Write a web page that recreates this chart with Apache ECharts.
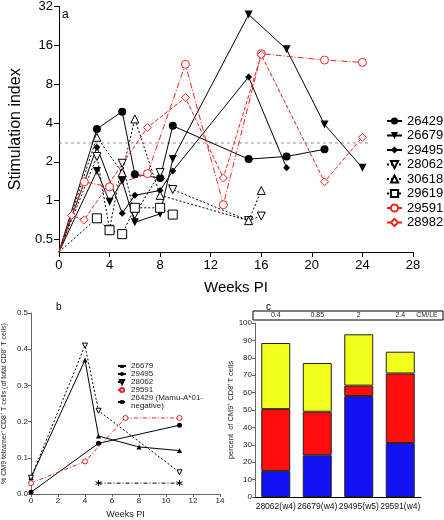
<!DOCTYPE html>
<html><head><meta charset="utf-8">
<script src="https://cdn.jsdelivr.net/npm/echarts@6/dist/echarts.min.js"></script>
<style>html,body{margin:0;padding:0;background:#fff}#c{width:444px;height:520px}</style>
</head><body><div id="c"></div>
<script>
// ---------- Panel a : stimulation index (log2 scale) ----------
const aTicksY = [0.5, 1, 2, 4, 8, 16, 32];
const a26429W = [0, 3, 5, 6, 8, 9, 15, 18, 21];
const a26429V = [0.4, 3.6, 4.9, 1.6, 1.5, 3.8, 2.1, 2.2, 2.5];
const a26679W = [0, 3, 4, 5, 6, 8, 9, 15, 18, 21, 24];
const a26679V = [0.4, 1.7, 0.98, 1.42, 0.68, 0.79, 2.1, 27.7, 14.9, 3.9, 1.8];
const a29495W = [0, 3, 5, 6, 8, 9, 15, 18];
const a29495V = [0.4, 2.6, 0.8, 1.1, 1.2, 1.7, 9.1, 1.8];
const a28062W = [0, 3, 4, 5, 6, 8, 9, 15, 16];
const a28062V = [0.4, 2.2, 0.6, 1.95, 0.78, 1.65, 1.22, 0.7, 0.76];
const a30618W = [0, 3, 5, 6, 8, 15, 16];
const a30618V = [0.4, 3.1, 1.65, 4.3, 1.1, 0.7, 1.2];
const a29619W = [0, 3, 4, 5, 6, 8, 9];
const a29619V = [0.4, 0.73, 0.59, 0.55, 0.88, 0.88, 0.78];
const a29591W = [0, 2, 4, 7, 10, 13, 16, 21, 24];
const a29591V = [0.4, 1.4, 1.28, 1.62, 11.4, 0.93, 13.8, 12.3, 11.8];
const a28982W = [0, 1, 2, 7, 10, 13, 16, 21, 24];
const a28982V = [0.4, 0.77, 0.71, 3.7, 6.3, 1.5, 13.5, 1.4, 3.1];
const aThresholdW = [0, 24.5];
const aThresholdV = 2.8;
const aLegend = ['26429', '26679', '29495', '28062', '30618', '29619', '29591', '28982'];

// ---------- Panel b : CM9 tetramer+ ----------
const b26679W = [0, 4, 5, 8, 11];
const b26679V = [0.045, 0.37, 0.16, 0.13, 0.12];
const b29495W = [0, 5, 11];
const b29495V = [0.005, 0.14, 0.19];
const b28062W = [0, 4, 5, 11];
const b28062V = [0.045, 0.41, 0.23, 0.06];
const b29591W = [0, 4, 7, 11];
const b29591V = [0.03, 0.09, 0.21, 0.21];
const b26429W = [5, 11];
const b26429V = [0.03, 0.03];

// ---------- Panel c : stacked percentages ----------
const cCats = ['28062(w4)', '26679(w4)', '29495(w5)', '29591(w4)'];
const cBlue = [15, 24, 58, 31];
const cRed = [35.5, 25, 6, 40];
const cYellow = [38, 28, 29.5, 12.5];
const cRatios = ['0.4', '0.85', '2', '2.4'];
const cRatioLabel = 'CM/LE';

const FONT = 'Liberation Sans, Arial, Helvetica, sans-serif';
const BLACK = '#000';
const RED = '#e8231e';

function lineSeries(name, w, v, o) {
  const data = w.map((x, i) => (o.hideFirst && i === 0) ? { value: [x, v[i]], symbol: 'none' } : [x, v[i]]);
  return {
    type: 'line', name: name, xAxisIndex: o.g, yAxisIndex: o.g,
    data: data, symbol: o.symbol, symbolSize: o.size,
    symbolRotate: o.rotate || 0, showAllSymbol: true, animation: false,
    itemStyle: o.filled ? { color: o.color, borderColor: o.color, borderWidth: 0 }
                        : { color: '#fff', borderColor: o.color, borderWidth: 1 },
    lineStyle: { color: o.color, width: o.lw || 1, type: o.type || 'solid' },
    emphasis: { disabled: true }, z: o.z || 3
  };
}
const ASTER = 'path://M0,-5L0,5M-4.33,-2.5L4.33,2.5M-4.33,2.5L4.33,-2.5';

const series = [
  // panel a
  lineSeries('26429', a26429W, a26429V, { g: 0, hideFirst: true, symbol: 'circle', size: 8, filled: true, color: BLACK }),
  lineSeries('26679', a26679W, a26679V, { g: 0, hideFirst: true, symbol: 'triangle', size: 8, rotate: 180, filled: true, color: BLACK }),
  lineSeries('29495', a29495W, a29495V, { g: 0, hideFirst: true, symbol: 'diamond', size: 7, filled: true, color: BLACK }),
  lineSeries('28062', a28062W, a28062V, { g: 0, hideFirst: true, symbol: 'triangle', size: 8, rotate: 180, filled: false, color: BLACK, type: [2, 2] }),
  lineSeries('30618', a30618W, a30618V, { g: 0, hideFirst: true, symbol: 'triangle', size: 8, filled: false, color: BLACK, type: [2, 2] }),
  lineSeries('29619', a29619W, a29619V, { g: 0, hideFirst: true, symbol: 'rect', size: 9, filled: false, color: BLACK, type: [2, 2] }),
  lineSeries('29591', a29591W, a29591V, { g: 0, hideFirst: true, symbol: 'circle', size: 8, filled: false, color: RED, type: [6, 2, 1, 2] }),
  lineSeries('28982', a28982W, a28982V, { g: 0, hideFirst: true, symbol: 'diamond', size: 8, filled: false, color: RED, type: [4, 2] }),
  {
    type: 'line', name: 'threshold', xAxisIndex: 0, yAxisIndex: 0, symbol: 'none', animation: false,
    data: aThresholdW.map(w => [w, aThresholdV]), z: 1,
    lineStyle: { color: '#777', width: 0.8, type: [3, 3] }, emphasis: { disabled: true }
  },
  // panel b
  lineSeries('b26679', b26679W, b26679V, { g: 1, symbol: 'triangle', size: 5, filled: true, color: BLACK }),
  lineSeries('b29495', b29495W, b29495V, { g: 1, symbol: 'circle', size: 5, filled: true, color: BLACK }),
  lineSeries('b28062', b28062W, b28062V, { g: 1, symbol: 'triangle', size: 5, rotate: 180, filled: false, color: BLACK, type: [2, 2] }),
  lineSeries('b29591', b29591W, b29591V, { g: 1, symbol: 'circle', size: 5, filled: false, color: RED, type: [4, 2, 1, 2] }),
  lineSeries('b26429', b26429W, b26429V, { g: 1, symbol: ASTER, size: 6, filled: false, color: BLACK, type: [4, 2, 1, 2] }),
  // panel c
  ...[['blue', cBlue, '#1212f2'], ['red', cRed, '#ff0c0c'], ['yellow', cYellow, '#f2ff1a']].map(([n, d, col]) => ({
    type: 'bar', name: n, stack: 'c', xAxisIndex: 2, yAxisIndex: 2, data: d, barWidth: 29,
    itemStyle: { color: col, borderColor: '#222', borderWidth: 1 }, animation: false,
    emphasis: { disabled: true }
  }))
];

const axisBase = (fs, col) => ({
  axisLine: { show: true, lineStyle: { color: col, width: 1 } },
  axisTick: { show: true, inside: false, length: 4, lineStyle: { color: col } },
  axisLabel: { color: '#000', fontSize: fs, fontFamily: FONT },
  splitLine: { show: false }, minorTick: { show: false }
});

const option = {
  animation: false,
  backgroundColor: '#fff',
  textStyle: { fontFamily: FONT },
  title: [
    { text: 'a', left: 57, top: 4, textStyle: { fontSize: 12, fontWeight: 'normal', color: '#000', fontFamily: FONT } },
    { text: 'b', left: 51, top: 297, textStyle: { fontSize: 10, fontWeight: 'normal', color: '#000', fontFamily: FONT } },
    { text: 'c', left: 261, top: 297, textStyle: { fontSize: 10, fontWeight: 'normal', color: '#000', fontFamily: FONT } }
  ],
  grid: [
    { left: 42, top: 5, width: 371, height: 247 },
    { left: 30, top: 313, width: 190, height: 184 },
    { left: 255, top: 323, width: 166, height: 174 }
  ],
  xAxis: [
    Object.assign(axisBase(13, BLACK), {
      type: 'value', gridIndex: 0, min: 0, max: 28, interval: 4,
      name: 'Weeks PI', nameLocation: 'middle', nameGap: 28,
      nameTextStyle: { fontSize: 15, color: '#000', fontFamily: FONT },
      axisTick: { show: true, length: 5, lineStyle: { color: BLACK } },
      axisLabel: { fontSize: 13, color: '#000', margin: 7, fontFamily: FONT }
    }),
    Object.assign(axisBase(8, '#666'), {
      type: 'value', gridIndex: 1, min: 0, max: 14, interval: 2,
      name: 'Weeks PI', nameLocation: 'middle', nameGap: 16,
      nameTextStyle: { fontSize: 9, color: '#222', fontFamily: FONT },
      axisTick: { show: true, length: 3, lineStyle: { color: '#666' } },
      axisLabel: { fontSize: 8, color: '#222', margin: 3, fontFamily: FONT }
    }),
    Object.assign(axisBase(8.5, BLACK), {
      type: 'category', gridIndex: 2, data: cCats,
      axisTick: { show: false },
      axisLabel: { fontSize: 8.5, color: '#111', margin: 5, fontFamily: FONT, interval: 0 }
    })
  ],
  yAxis: [
    Object.assign(axisBase(13, BLACK), {
      type: 'log', logBase: 2, gridIndex: 0, min: 0.4, max: 32,
      name: 'Stimulation index', nameLocation: 'middle', nameGap: 27,
      nameTextStyle: { fontSize: 16, color: '#000', fontFamily: FONT },
      axisTick: { show: true, length: 5, customValues: aTicksY, lineStyle: { color: BLACK } },
      axisLabel: { fontSize: 13, color: '#000', margin: 6, customValues: aTicksY, fontFamily: FONT,
                   formatter: v => String(v) }
    }),
    Object.assign(axisBase(8, '#666'), {
      type: 'value', gridIndex: 1, min: 0, max: 0.5, interval: 0.1,
      name: '% CM9 tetramer\u207A CD8\u207A T cells (of total CD8\u207A T cells)',
      nameLocation: 'middle', nameGap: 23,
      nameTextStyle: { fontSize: 7, color: '#222', fontFamily: FONT },
      axisTick: { show: true, length: 3, lineStyle: { color: '#666' } },
      axisLabel: { fontSize: 8, color: '#222', margin: 3, fontFamily: FONT, formatter: v => v.toFixed(1) }
    }),
    Object.assign(axisBase(8, '#666'), {
      type: 'value', gridIndex: 2, min: 0, max: 100, interval: 10,
      name: 'percent  of CM9\u207A CD8\u207AT cells', nameLocation: 'middle', nameGap: 19,
      nameTextStyle: { fontSize: 7.5, color: '#222', fontFamily: FONT },
      axisTick: { show: true, length: 3, lineStyle: { color: '#666' } },
      axisLabel: { fontSize: 8, color: '#222', margin: 3, fontFamily: FONT }
    })
  ],
  legend: [
    {
      data: aLegend, orient: 'vertical', left: 381, top: 109, selectedMode: false,
      itemWidth: 15, itemHeight: 9, itemGap: 0.5,
      textStyle: { fontSize: 13, color: '#000', lineHeight: 14, fontFamily: FONT }
    },
    {
      data: ['b26679', 'b29495', 'b28062', 'b29591', 'b26429'], orient: 'vertical',
      left: 112, top: 357, selectedMode: false, itemWidth: 8, itemHeight: 5, itemGap: 0,
      formatter: n => n === 'b26429' ? '26429 (Mamu-A*01-\nnegative)' : n.slice(1),
      textStyle: { fontSize: 8, color: '#222', lineHeight: 8, fontFamily: FONT }
    }
  ],
  series: series
};

const chart = echarts.init(document.getElementById('c'), null, { renderer: 'canvas' });
chart.setOption(option);

// Header box above panel c with CM/LE ratios, placed via the category axis scale
const hdrTop = 311, hdrH = 9;
const texts = cCats.map((c, i) => ({
  type: 'text', x: chart.convertToPixel({ xAxisIndex: 2 }, c), y: hdrTop + hdrH / 2,
  style: { text: cRatios[i], fontSize: 7, fill: '#222', align: 'center', verticalAlign: 'middle', fontFamily: FONT }
}));
texts.push({
  type: 'text', x: 427, y: hdrTop + hdrH / 2,
  style: { text: cRatioLabel, fontSize: 7, fill: '#222', align: 'center', verticalAlign: 'middle', fontFamily: FONT }
});
chart.setOption({
  graphic: [
    { type: 'rect', shape: { x: 253, y: hdrTop, width: 190, height: hdrH },
      style: { fill: 'none', stroke: '#000', lineWidth: 1 } },
    ...texts
  ]
});
</script></body></html>
